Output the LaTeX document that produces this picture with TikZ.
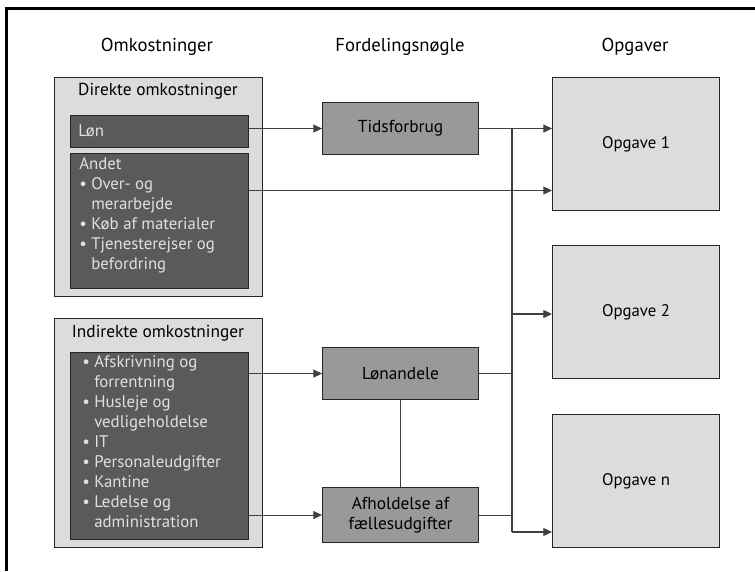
\documentclass[tikz,border=0pt]{standalone}
\usepackage{fontspec}
\setmainfont{PT Sans}
\usetikzlibrary{arrows.meta}

\definecolor{pale}{HTML}{DCDCDC}
\definecolor{darkfill}{HTML}{5A5A5A}
\definecolor{midfill}{HTML}{999999}
\definecolor{edge}{HTML}{262626}
\definecolor{wire}{HTML}{404040}
\definecolor{lighttext}{HTML}{E0E0E0}

\newcommand\bul{\makebox[9pt][l]{\textbullet}}
\newcommand\cont{\hspace*{9pt}}

\tikzset{
  panel/.style={draw=edge, line width=0.8pt, fill=pale, anchor=north west, inner sep=0pt,
                minimum width=156pt},
  darkbox/.style={draw=edge, line width=0.8pt, fill=darkfill, anchor=north west, inner sep=0pt,
                minimum width=133.5pt},
  keybox/.style={draw=edge, line width=0.8pt, fill=midfill, anchor=north west, inner sep=0pt,
                minimum width=117pt, align=center, font=\fontsize{13}{15}\selectfont},
  taskbox/.style={draw=edge, line width=0.8pt, fill=pale, anchor=north west, inner sep=0pt,
                minimum width=125.25pt, minimum height=99.75pt, font=\fontsize{12.6}{15}\selectfont},
  head/.style={font=\fontsize{14}{16}\selectfont, inner sep=0pt},
  ptitle/.style={font=\fontsize{13}{15}\selectfont, inner sep=0pt},
  listtext/.style={font=\fontsize{12.6}{15}\selectfont, text=lighttext, align=left,
                inner sep=0pt, anchor=north west},
  link/.style={draw=wire, line width=0.8pt},
  arrowlink/.style={link, -{Triangle[length=6.5pt,width=6pt]}},
}

\begin{document}
\begin{tikzpicture}[x=0.75pt,y=-0.75pt]
\useasboundingbox (0,0) rectangle (755,571);

% outer frame (left and top edges)
\draw[line width=1.9pt] (6.5,571) -- (6.5,8.5) -- (755,8.5);

% column headings
\node[head] (hcost) at (157,47) {Omkostninger};
\node[head] (hkey)  at (400,47) {Fordelingsnøgle};
\node[head] (htask) at (635,47) {Opgaver};

% direct costs
\node[panel, minimum height=164.25pt] (direct) at (54,77) {};
\node[ptitle] (directtitle) at (158,91) {Direkte omkostninger};
\node[darkbox, minimum height=24pt] (salary) at (70,115) {};
\node[listtext, anchor=west] (salarytext) at (78,130.5) {Løn};
\node[darkbox, minimum height=101.25pt] (other) at (70,153) {};
\node[listtext] (othertext) at (79,157) {Andet\\
  \bul Over- og\\ \cont merarbejde\\
  \bul Køb af materialer\\
  \bul Tjenesterejser og\\ \cont befordring};

% indirect costs
\node[panel, minimum height=171.75pt] (indirect) at (54,318) {};
\node[ptitle] (indirecttitle) at (158,333) {Indirekte omkostninger};
\node[darkbox, minimum height=140.25pt] (overhead) at (70,352) {};
\node[listtext] (overheadtext) at (82,355) {%
  \bul Afskrivning og\\ \cont forrentning\\
  \bul Husleje og\\ \cont vedligeholdelse\\
  \bul IT\\
  \bul Personaleudgifter\\
  \bul Kantine\\
  \bul Ledelse og\\ \cont administration};

% allocation keys
\node[keybox, minimum height=39pt] (time) at (322,102) {Tidsforbrug};
\node[keybox, minimum height=39pt] (share) at (322,347) {Lønandele};
\node[keybox, minimum height=41.25pt] (common) at (322,487) {Afholdelse af\\fællesudgifter};

% tasks
\node[taskbox] (task1) at (552,77)  {Opgave 1};
\node[taskbox] (task2) at (552,245) {Opgave 2};
\node[taskbox] (taskn) at (552,414) {Opgave n};

% distribution bus
\coordinate (bustop) at (512,128);
\coordinate (busbot) at (512,532);
\coordinate (otherrow) at (0,190.5);
\coordinate (task2row) at (0,314);

\draw[link] (bustop) -- (busbot);

\draw[arrowlink] (time.west -| salary.east) -- (time.west);
\draw[arrowlink] (time.east) -- (time.east -| task1.west);
\draw[arrowlink] (otherrow -| other.east) -- (otherrow -| task1.west);
\draw[arrowlink] (task2row -| bustop) -- (task2row -| task2.west);
\draw[arrowlink] (busbot) -- (busbot -| taskn.west);

\draw[arrowlink] (share.west -| overhead.east) -- (share.west);
\draw[arrowlink] (common.west -| overhead.east) -- (common.west);
\draw[link] (share.east) -- (share.east -| bustop);
\draw[link] (common.east) -- (common.east -| bustop);
\draw[link] (share.south) -- (common.north);
\end{tikzpicture}
\end{document}
